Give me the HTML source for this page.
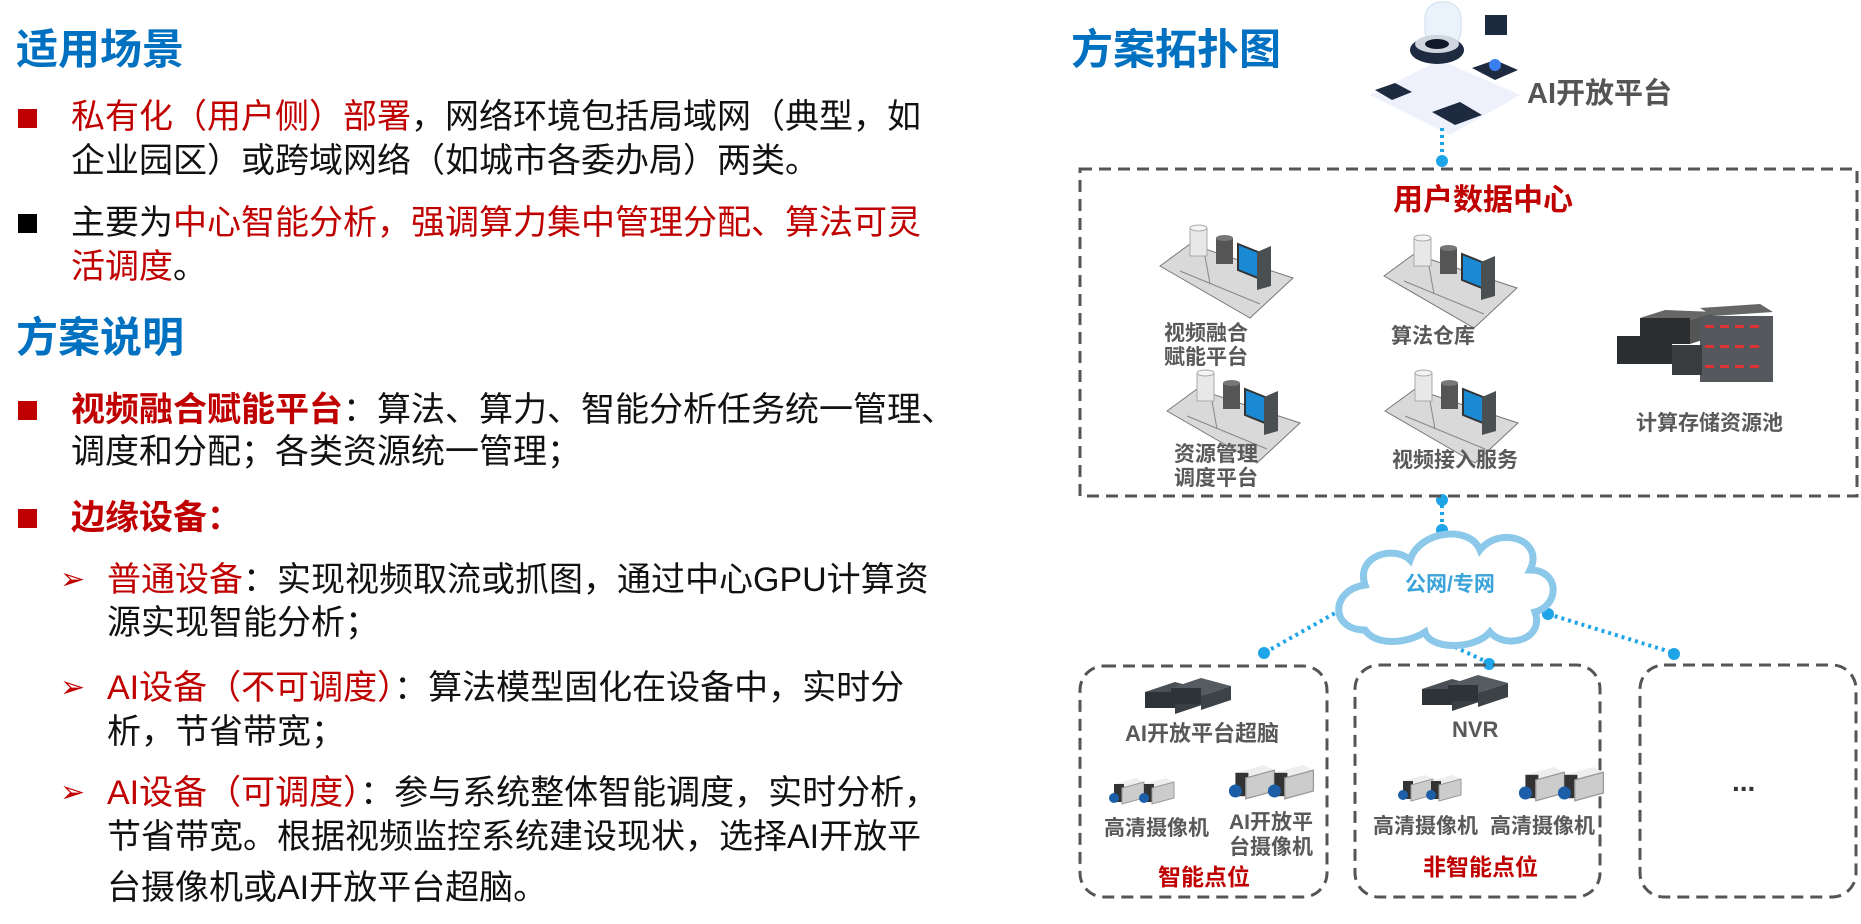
<!DOCTYPE html>
<html><head><meta charset="utf-8"><style>
body{margin:0;width:1861px;height:924px;background:#fff;position:relative;overflow:hidden;font-family:"Liberation Sans","Noto Sans CJK SC",sans-serif;}
.t{position:absolute;white-space:nowrap;line-height:1;}
.h{font-size:42px;font-weight:bold;color:#0070c0;}
.b{font-size:34px;color:#111;}
.r{color:#c00000;}
.sq{position:absolute;width:19px;height:19px;}
.l{font-size:21px;font-weight:bold;color:#595959;}
.ar{position:absolute;font-size:30px;color:#c00000;line-height:1;}
</style></head><body>
<div class="t h" style="left:16px;top:29px">适用场景</div>
<div class="sq" style="left:18px;top:109px;background:#c00000"></div>
<div class="t b" style="left:71px;top:100px"><span class="r">私有化（用户侧）部署</span>，网络环境包括局域网（典型，如</div>
<div class="t b" style="left:71px;top:144px">企业园区）或跨域网络（如城市各委办局）两类。</div>
<div class="sq" style="left:18px;top:214px;background:#000"></div>
<div class="t b" style="left:71px;top:206px">主要为<span class="r">中心智能分析，强调算力集中管理分配、算法可灵</span></div>
<div class="t b r" style="left:71px;top:250px">活调度<span style="color:#111">。</span></div>
<div class="t h" style="left:16px;top:317px">方案说明</div>
<div class="sq" style="left:18px;top:401px;background:#c00000"></div>
<div class="t b" style="left:71px;top:393px"><b class="r">视频融合赋能平台</b>：算法、算力、智能分析任务统一管理、</div>
<div class="t b" style="left:71px;top:435px">调度和分配；各类资源统一管理；</div>
<div class="sq" style="left:18px;top:509px;background:#c00000"></div>
<div class="t b r" style="left:71px;top:501px"><b>边缘设备：</b></div>
<div class="ar" style="left:60px;top:565px">➢</div>
<div class="t b" style="left:107px;top:563px"><span class="r">普通设备</span>：实现视频取流或抓图，通过中心GPU计算资</div>
<div class="t b" style="left:107px;top:606px">源实现智能分析；</div>
<div class="ar" style="left:60px;top:673px">➢</div>
<div class="t b" style="left:107px;top:671px"><span class="r">AI设备（不可调度）</span>：算法模型固化在设备中，实时分</div>
<div class="t b" style="left:107px;top:715px">析，节省带宽；</div>
<div class="ar" style="left:60px;top:778px">➢</div>
<div class="t b" style="left:107px;top:776px"><span class="r">AI设备（可调度）</span>：参与系统整体智能调度，实时分析，</div>
<div class="t b" style="left:107px;top:820px">节省带宽。根据视频监控系统建设现状，选择AI开放平</div>
<div class="t b" style="left:107px;top:871px">台摄像机或AI开放平台超脑。</div>

<div class="t h" style="left:1071px;top:29px">方案拓扑图</div>

<svg style="position:absolute;left:0;top:0" width="1861" height="924">
<defs>
<g id="ws">
<polygon points="0,40 30,18 133,52 90,92" fill="#d9d9d9" stroke="#777" stroke-width="1"/>
<line x1="20" y1="45" x2="100" y2="78" stroke="#888"/>
<line x1="45" y1="30" x2="50" y2="58" stroke="#888"/>
<rect x="30" y="2" width="17" height="28" fill="#e8e8e8" stroke="#aaa"/>
<ellipse cx="38.5" cy="2" rx="8.5" ry="3" fill="#f4f4f4" stroke="#aaa"/>
<rect x="56" y="12" width="17" height="26" fill="#555"/>
<ellipse cx="64.5" cy="12" rx="8.5" ry="3" fill="#777"/>
<polygon points="78,18 98,26 98,52 78,44" fill="#1a8ad4" stroke="#333" stroke-width="2"/>
<polygon points="97,26 111,20 111,60 97,64" fill="#4a4f52"/>
</g>
<g id="nvr">
<polygon points="0,14 30,4 60,12 30,22" fill="#4a5055"/>
<rect x="0" y="14" width="30" height="16" fill="#2e3338"/>
<polygon points="30,22 60,12 60,26 30,36" fill="#3a3f44"/>
<polygon points="26,10 56,0 86,8 56,18" fill="#555b60"/>
<rect x="26" y="10" width="30" height="16" fill="#2e3338"/>
<polygon points="56,18 86,8 86,22 56,32" fill="#3d4247"/>
</g>
<g id="cam">
<polygon points="8,6 30,0 38,4 16,10" fill="#eee"/>
<rect x="8" y="6" width="10" height="18" fill="#333"/>
<polygon points="16,10 38,4 38,20 16,26" fill="#ccc" stroke="#999"/>
<circle cx="8" cy="20" r="5" fill="#1c5fa8"/>
</g>
</defs>
<g>
<polygon points="1370,95 1440,60 1520,95 1450,135" fill="#eef0fb"/>
<rect x="1425" y="2" width="36" height="45" rx="16" fill="#eaf3fb" stroke="#cde"/>
<ellipse cx="1437" cy="50" rx="27" ry="14" fill="#1d2a40"/>
<ellipse cx="1437" cy="44" rx="22" ry="9" fill="#cfd6df"/>
<ellipse cx="1437" cy="44" rx="12" ry="5" fill="#10182a"/>
<rect x="1485" y="15" width="22" height="20" fill="#1d2a40"/>
<polygon points="1472,68 1495,60 1518,70 1495,80" fill="#1d2a40"/>
<polygon points="1375,90 1395,83 1412,92 1392,100" fill="#1d2a40"/>
<polygon points="1432,112 1460,102 1482,115 1455,125" fill="#1d2a40"/>
<circle cx="1495" cy="65" r="6" fill="#3a7ef0"/>
</g>
<g stroke="#1ea5e8" stroke-width="4" stroke-dasharray="3,4" fill="none">
<line x1="1442" y1="128" x2="1442" y2="160"/>
<line x1="1442" y1="498" x2="1442" y2="530"/>
<line x1="1353" y1="603" x2="1264" y2="653"/>
<line x1="1442" y1="641" x2="1489" y2="663"/>
<line x1="1548" y1="614" x2="1674" y2="653"/>
</g>
<g fill="#1ea5e8">
<circle cx="1442" cy="161" r="6"/><circle cx="1442" cy="500" r="6"/><circle cx="1442" cy="530" r="6"/>
<circle cx="1353" cy="603" r="6"/><circle cx="1264" cy="653" r="6"/><circle cx="1442" cy="641" r="6"/>
<circle cx="1489" cy="664" r="6"/><circle cx="1548" cy="614" r="6"/><circle cx="1674" cy="654" r="6"/>
</g>
<rect x="1080" y="169" width="777" height="327" fill="none" stroke="#555" stroke-width="3" stroke-dasharray="12,7"/>
<rect x="1080" y="666" width="247" height="231" rx="24" fill="none" stroke="#555" stroke-width="3" stroke-dasharray="12,7"/>
<rect x="1355" y="665" width="245" height="232" rx="24" fill="none" stroke="#555" stroke-width="3" stroke-dasharray="12,7"/>
<rect x="1640" y="665" width="216" height="232" rx="24" fill="none" stroke="#555" stroke-width="3" stroke-dasharray="12,7"/>
<path d="M1365,630 C1330,630 1330,590 1365,585 C1355,555 1395,545 1410,560 C1420,530 1470,525 1480,550 C1500,525 1545,540 1530,570 C1560,570 1560,605 1535,612 C1545,640 1505,650 1490,632 C1475,650 1430,650 1425,632 C1405,645 1375,645 1365,630 Z" fill="#fff" stroke="#8cc8ea" stroke-width="7"/>
<use href="#ws" x="1160" y="226"/>
<use href="#ws" x="1384" y="236"/>
<use href="#ws" x="1167" y="371"/>
<use href="#ws" x="1385" y="371"/>
<g>
<polygon points="1640,318 1665,310 1715,312 1690,320" fill="#666"/>
<rect x="1640" y="318" width="50" height="26" fill="#2b2e31"/>
<polygon points="1690,320 1715,312 1715,336 1690,344" fill="#555"/>
<rect x="1617" y="336" width="55" height="28" fill="#2b2e31"/>
<polygon points="1700,308 1760,304 1773,312 1713,316" fill="#666"/>
<rect x="1700" y="316" width="73" height="66" fill="#55595d"/>
<rect x="1672" y="345" width="30" height="30" fill="#3a3d40"/>
<g fill="#d33"><rect x="1705" y="325" width="9" height="3"/><rect x="1720" y="325" width="9" height="3"/><rect x="1735" y="325" width="9" height="3"/><rect x="1750" y="325" width="9" height="3"/><rect x="1705" y="345" width="9" height="3"/><rect x="1720" y="345" width="9" height="3"/><rect x="1735" y="345" width="9" height="3"/><rect x="1750" y="345" width="9" height="3"/><rect x="1705" y="365" width="9" height="3"/><rect x="1720" y="365" width="9" height="3"/><rect x="1735" y="365" width="9" height="3"/><rect x="1750" y="365" width="9" height="3"/></g>
</g>
<use href="#nvr" x="1145" y="678"/>
<use href="#nvr" x="1422" y="675"/>
<use href="#cam" x="1106" y="778"/><use href="#cam" x="1136" y="778"/>
<use href="#cam" x="1395" y="775"/><use href="#cam" x="1423" y="775"/>
<g transform="translate(1225,765) scale(1.3)"><use href="#cam" x="0" y="0"/><use href="#cam" x="30" y="0"/></g>
<g transform="translate(1515,767) scale(1.3)"><use href="#cam" x="0" y="0"/><use href="#cam" x="30" y="0"/></g>
</svg>
<div class="t" style="left:1527px;top:80px;font-size:29px;font-weight:bold;color:#555">AI开放平台</div>
<div class="t" style="left:1393px;top:186px;font-size:30px;font-weight:bold;color:#c00000">用户数据中心</div>
<div class="t l" style="left:1164px;top:322px;line-height:24px">视频融合<br>赋能平台</div>
<div class="t l" style="left:1391px;top:326px">算法仓库</div>
<div class="t l" style="left:1174px;top:443px;line-height:24px">资源管理<br>调度平台</div>
<div class="t l" style="left:1392px;top:450px">视频接入服务</div>
<div class="t l" style="left:1636px;top:413px">计算存储资源池</div>
<div class="t" style="left:1405px;top:574px;font-size:21px;font-weight:bold;color:#3ba3da">公网/专网</div>
<div class="t l" style="left:1125px;top:723px;font-size:22px">AI开放平台超脑</div>
<div class="t l" style="left:1452px;top:719px;font-size:22px">NVR</div>
<div class="t l" style="left:1104px;top:818px">高清摄像机</div>
<div class="t l" style="left:1229px;top:810px;line-height:25px">AI开放平<br>台摄像机</div>
<div class="t" style="left:1158px;top:866px;font-size:23px;font-weight:bold;color:#c00000">智能点位</div>
<div class="t l" style="left:1373px;top:816px">高清摄像机</div>
<div class="t l" style="left:1490px;top:816px">高清摄像机</div>
<div class="t" style="left:1423px;top:856px;font-size:23px;font-weight:bold;color:#c00000">非智能点位</div>
<div class="t" style="left:1732px;top:768px;font-size:28px;font-weight:bold;color:#333">...</div>
</body></html>
